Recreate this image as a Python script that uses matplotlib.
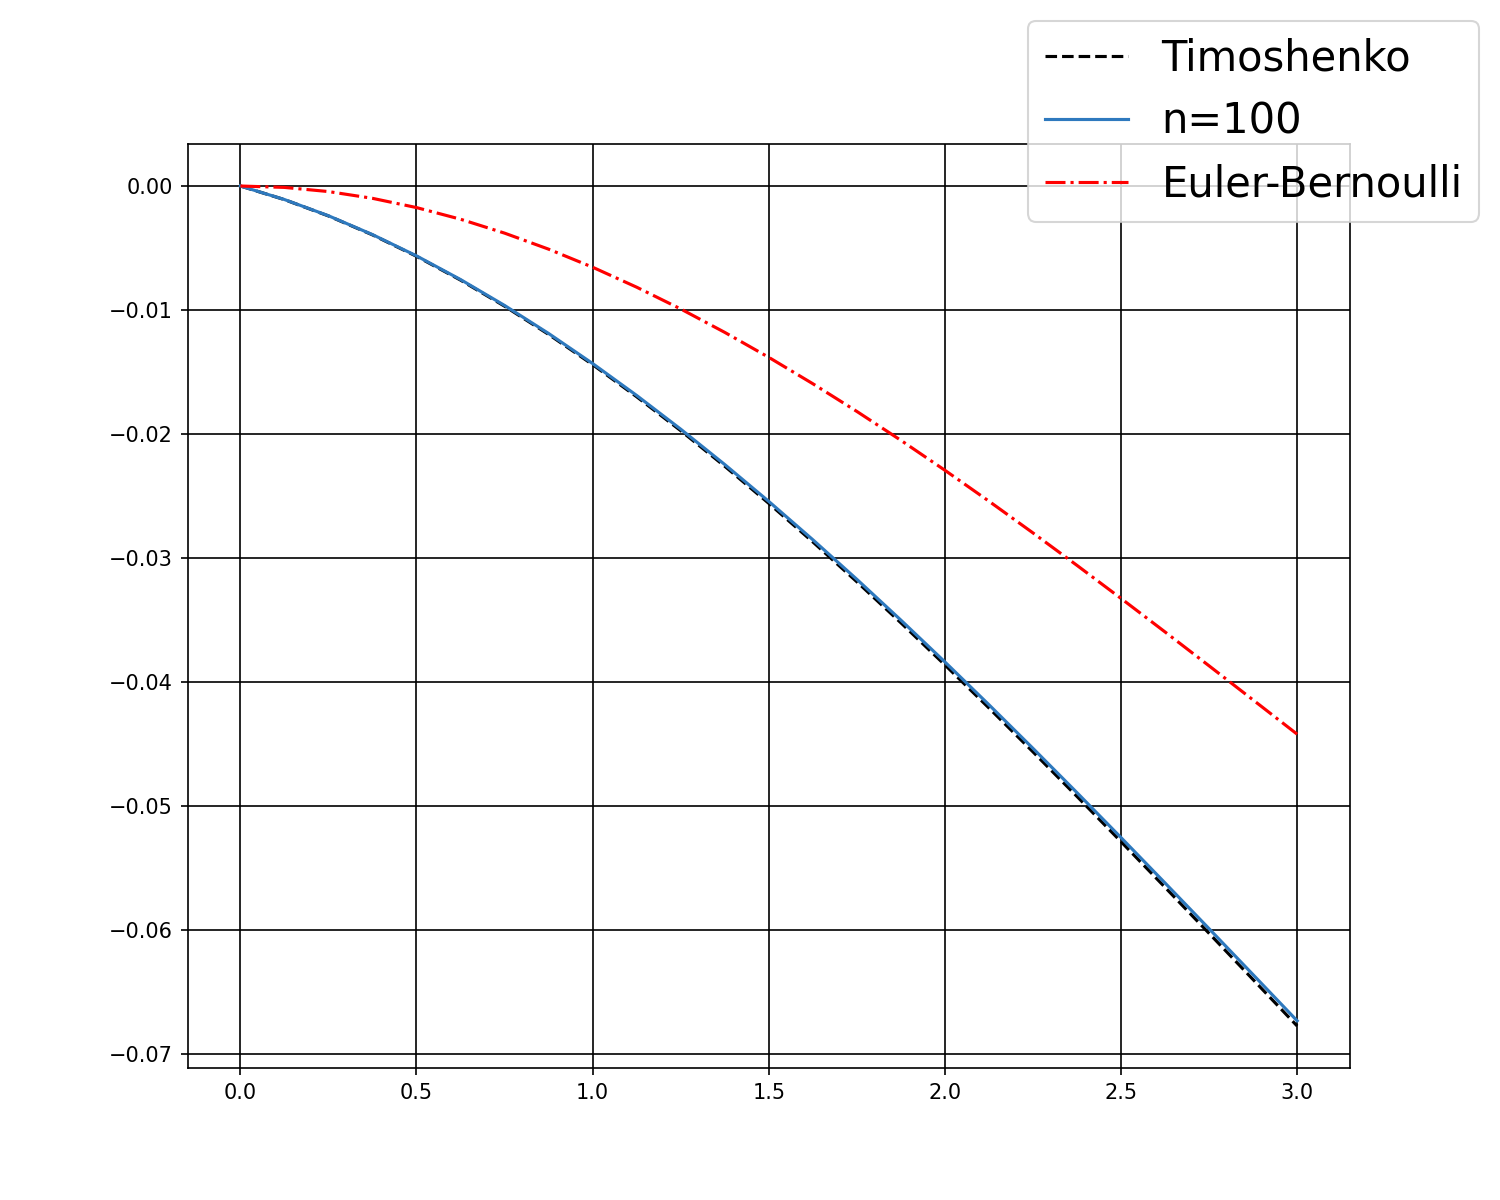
import matplotlib
matplotlib.use("Agg")
import matplotlib.pyplot as plt

x = [0.0, 0.125, 0.25, 0.375, 0.5, 0.625, 0.75, 0.875, 1.0, 1.125, 1.25, 1.375,
     1.5, 1.625, 1.75, 1.875, 2.0, 2.125, 2.25, 2.375, 2.5, 2.625, 2.75, 2.875, 3.0]

timoshenko = [0.0, -0.001096, -0.002412, -0.003939, -0.005667, -0.007587, -0.009689,
              -0.011963, -0.014400, -0.016991, -0.019725, -0.022593, -0.025586,
              -0.028694, -0.031907, -0.035216, -0.038611, -0.042083, -0.045622,
              -0.049218, -0.052863, -0.056545, -0.060256, -0.063987, -0.067726]

n100 = [0.0, -0.001089, -0.002397, -0.003915, -0.005632, -0.007540, -0.009629,
        -0.011889, -0.014312, -0.016886, -0.019603, -0.022454, -0.025428,
        -0.028517, -0.031710, -0.034999, -0.038372, -0.041823, -0.045340,
        -0.048914, -0.052536, -0.056196, -0.059884, -0.063592, -0.067308]

euler_bernoulli = [0.0, -0.000114, -0.000448, -0.000993, -0.001739, -0.002678,
                   -0.003799, -0.005092, -0.006548, -0.008158, -0.009912, -0.011800,
                   -0.013813, -0.015940, -0.018174, -0.020503, -0.022919, -0.025411,
                   -0.027970, -0.030588, -0.033253, -0.035956, -0.038688, -0.041440,
                   -0.044200]

fig, ax = plt.subplots(figsize=(10, 8), dpi=150)
ax.plot(x, timoshenko, 'k--', label='Timoshenko')
ax.plot(x, n100, '-', color='#2e79be', label='n=100')
ax.plot(x, euler_bernoulli, 'r-.', label='Euler-Bernoulli')
ax.grid(True, color='k', linewidth=0.8)
fig.legend(fontsize=20, loc='upper right')
fig.savefig('out.png', dpi=150)
